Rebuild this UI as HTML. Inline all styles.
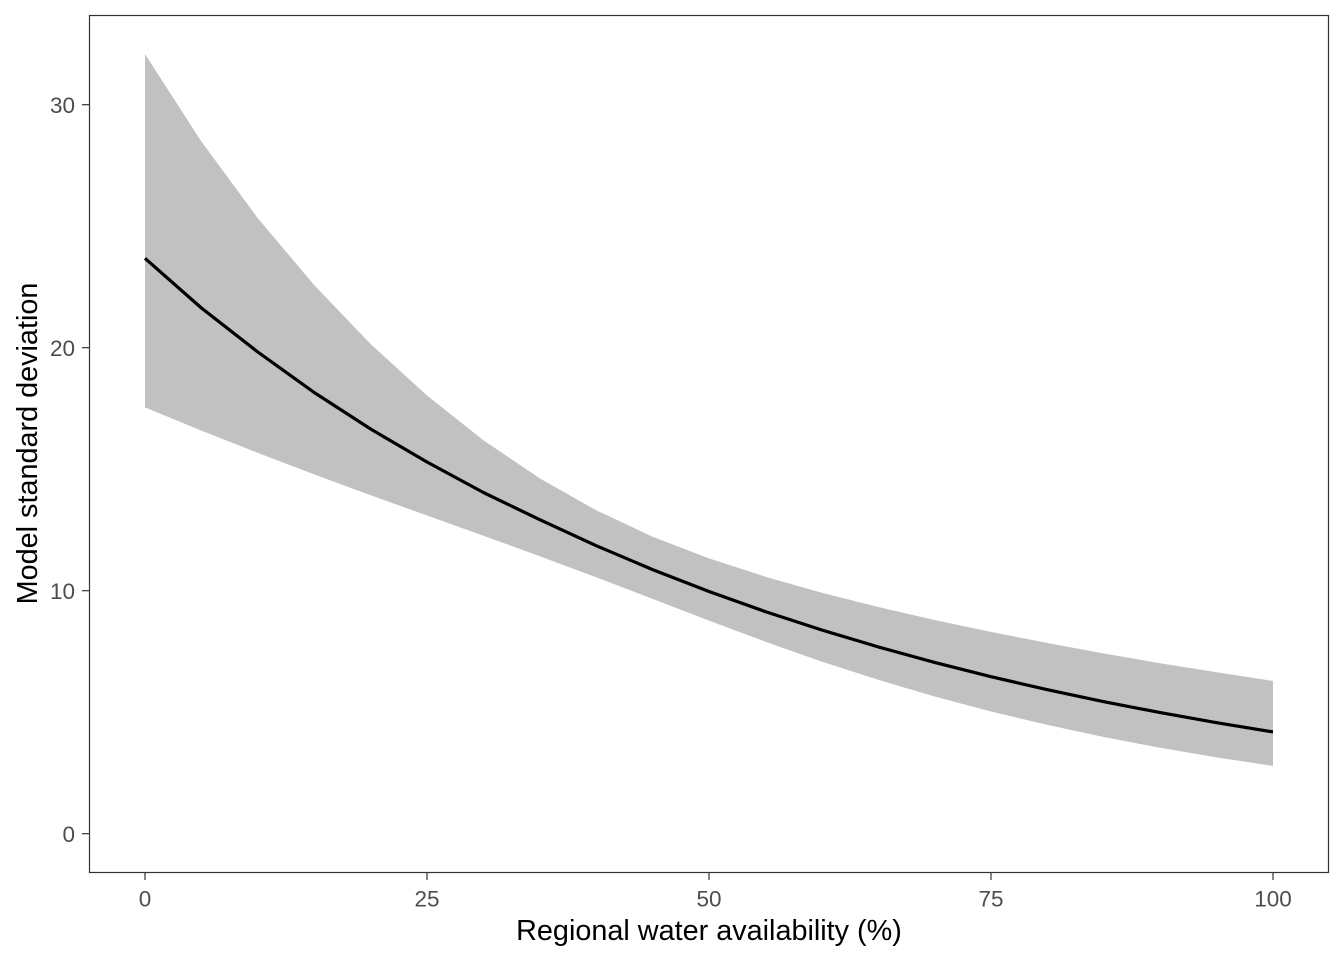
<!DOCTYPE html>
<html>
<head>
<meta charset="utf-8">
<style>
  html, body { margin: 0; padding: 0; background: #ffffff; }
  svg { display: block; }
  text { font-family: "Liberation Sans", Arial, sans-serif; }
</style>
</head>
<body>
<svg width="1344" height="960" viewBox="0 0 1344 960" xmlns="http://www.w3.org/2000/svg">
  <rect x="0" y="0" width="1344" height="960" fill="#ffffff"/>

  <!-- ribbon -->
  <polygon fill="#c1c1c1" points="
    145,54 201.4,141.5 257.8,218.2 314.2,285.1 370.6,344.0 427,395.5 483.4,440.2 539.8,478.4 596.2,510.3 652.6,536.7 709,558.4 765.4,576.7 821.8,592.7 878.2,607.0 934.6,620.0 991,631.9 1047.4,643.0 1103.8,653.5 1160.2,663.2 1216.6,672.3 1273,680.9
    1273,765.9 1216.6,757.4 1160.2,747.8 1103.8,737.0 1047.4,724.9 991,711.5 934.6,696.5 878.2,679.8 821.8,661.6 765.4,641.7 709,620.6 652.6,598.9 596.2,577.2 539.8,556.2 483.4,535.7 427,515.5 370.6,495.2 314.2,474.4 257.8,452.9 201.4,430.6 145,407.4"/>

  <!-- mean line -->
  <polyline fill="none" stroke="#000000" stroke-width="3.2" stroke-linejoin="round" stroke-linecap="butt" points="
    145,258.3 201.4,308 257.8,352 314.2,392.5 370.6,429 427,462 483.4,492.5 539.8,519.7 596.2,545.7 652.6,569.6 709,591.5 765.4,611.6 821.8,630.0 878.2,646.9 934.6,662.4 991,676.7 1047.4,689.7 1103.8,701.7 1160.2,712.6 1216.6,722.7 1273,731.9"/>

  <!-- panel border -->
  <rect x="89.5" y="15.5" width="1239" height="857" fill="none" stroke="#333333" stroke-width="1.2"/>

  <!-- x ticks -->
  <g stroke="#333333" stroke-width="1.2">
    <line x1="145" y1="873" x2="145" y2="880"/>
    <line x1="427" y1="873" x2="427" y2="880"/>
    <line x1="709" y1="873" x2="709" y2="880"/>
    <line x1="991" y1="873" x2="991" y2="880"/>
    <line x1="1273" y1="873" x2="1273" y2="880"/>
  </g>
  <!-- y ticks -->
  <g stroke="#333333" stroke-width="1.2">
    <line x1="82" y1="833.7" x2="89" y2="833.7"/>
    <line x1="82" y1="590.7" x2="89" y2="590.7"/>
    <line x1="82" y1="347.7" x2="89" y2="347.7"/>
    <line x1="82" y1="104.7" x2="89" y2="104.7"/>
  </g>

  <!-- x tick labels -->
  <g fill="#4d4d4d" font-size="22.5" text-anchor="middle">
    <text x="145" y="906.5">0</text>
    <text x="427" y="906.5">25</text>
    <text x="709" y="906.5">50</text>
    <text x="991" y="906.5">75</text>
    <text x="1273" y="906.5">100</text>
  </g>
  <!-- y tick labels -->
  <g fill="#4d4d4d" font-size="22.5" text-anchor="end">
    <text x="75" y="841.8">0</text>
    <text x="75" y="598.8">10</text>
    <text x="75" y="355.8">20</text>
    <text x="75" y="112.8">30</text>
  </g>

  <!-- axis titles -->
  <text x="709" y="940" font-size="28.8" fill="#000000" text-anchor="middle">Regional water availability (%)</text>
  <text transform="translate(37,443.5) rotate(-90)" font-size="28.8" fill="#000000" text-anchor="middle">Model standard deviation</text>
</svg>
</body>
</html>
